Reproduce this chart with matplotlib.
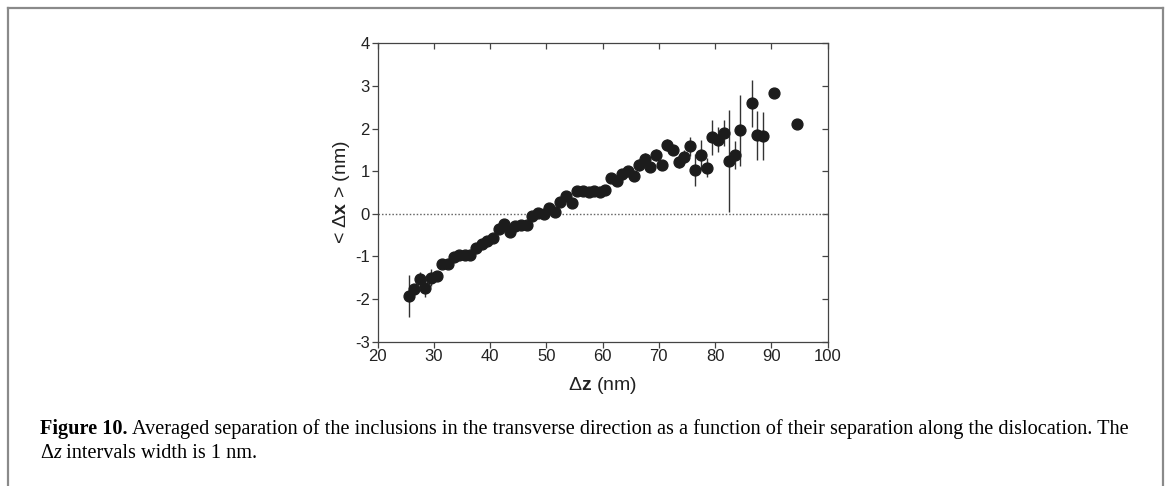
import numpy as np
import matplotlib
matplotlib.use('Agg')
import matplotlib.pyplot as plt
from matplotlib.lines import Line2D

plt.rcParams['font.family'] = ['Liberation Sans', 'DejaVu Sans']
plt.rcParams['mathtext.fontset'] = 'custom'
plt.rcParams['mathtext.rm'] = 'Liberation Sans'
plt.rcParams['mathtext.bf'] = 'Liberation Sans:bold'
plt.rcParams['axes.unicode_minus'] = False

# interval centres (nm)
dz = [25.5, 26.5, 27.5, 28.5, 29.5, 30.5, 31.5, 32.5, 33.5, 34.5,
      35.5, 36.5, 37.5, 38.5, 39.5, 40.5, 41.5, 42.5, 43.5, 44.5,
      45.5, 46.5, 47.5, 48.5, 49.5, 50.5, 51.5, 52.5, 53.5, 54.5,
      55.5, 56.5, 57.5, 58.5, 59.5, 60.5, 61.5, 62.5, 63.5, 64.5,
      65.5, 66.5, 67.5, 68.5, 69.5, 70.5, 71.5, 72.5, 73.5, 74.5,
      75.5, 76.5, 77.5, 78.5, 79.5, 80.5, 81.5, 82.5, 83.5, 84.5,
      86.5, 87.5, 88.5, 90.5, 94.5]
# averaged transverse separation (nm)
dx = [-1.93, -1.77, -1.54, -1.75, -1.50, -1.47, -1.18, -1.19, -1.02, -0.97,
      -0.97, -0.97, -0.80, -0.72, -0.65, -0.58, -0.37, -0.25, -0.44, -0.28,
      -0.27, -0.27, -0.05, 0.02, -0.01, 0.13, 0.03, 0.28, 0.42, 0.26,
      0.53, 0.53, 0.51, 0.54, 0.52, 0.55, 0.83, 0.76, 0.94, 1.00,
      0.89, 1.14, 1.28, 1.09, 1.38, 1.14, 1.62, 1.50, 1.22, 1.34,
      1.58, 1.03, 1.38, 1.08, 1.79, 1.74, 1.89, 1.24, 1.38, 1.96,
      2.59, 1.84, 1.82, 2.83, 2.10]
err = [0.50, 0.12, 0.17, 0.20, 0.20, 0.10, 0.08, 0.06, 0.06, 0.06,
       0.06, 0.06, 0.06, 0.06, 0.06, 0.06, 0.06, 0.06, 0.06, 0.06,
       0.06, 0.06, 0.06, 0.06, 0.06, 0.06, 0.06, 0.06, 0.06, 0.06,
       0.06, 0.06, 0.06, 0.06, 0.06, 0.06, 0.08, 0.08, 0.12, 0.10,
       0.12, 0.14, 0.15, 0.12, 0.15, 0.12, 0.14, 0.12, 0.15, 0.15,
       0.23, 0.38, 0.35, 0.22, 0.42, 0.30, 0.31, 1.20, 0.33, 0.83,
       0.55, 0.57, 0.57, 0.0, 0.0]

xticks = [20, 30, 40, 50, 60, 70, 80, 90, 100]
yticks = [-3, -2, -1, 0, 1, 2, 3, 4]

fig = plt.figure(figsize=(11.7, 4.86), dpi=100)
ax = fig.add_axes([0.3227, 0.2973, 0.3847, 0.6136])

ax.axhline(0, color='#666666', lw=1, ls=(0, (1.1, 1.4)), zorder=1)
ax.errorbar(dz, dx, yerr=err, fmt='o', ms=7.8, color='#1c1c1c',
            ecolor='#333333', elinewidth=1, capsize=0, zorder=3)

ax.set_xlim(20, 100)
ax.set_ylim(-3, 4)
ax.set_xticks(xticks)
ax.set_yticks(yticks)
ax.tick_params(direction='out', length=4, width=0.9, color='#444444',
               labelsize=12, pad=1.5, labelcolor='#222222')
for s in ax.spines.values():
    s.set_color('#444444')
    s.set_linewidth(0.9)

# mirrored ticks on top/right point inwards
sx = ax.secondary_xaxis('top')
sx.set_xticks(xticks)
sx.tick_params(direction='in', length=4, width=0.9, color='#444444', labeltop=False)
sx.spines['top'].set_visible(False)
sy = ax.secondary_yaxis('right')
sy.set_yticks(yticks)
sy.tick_params(direction='in', length=4, width=0.9, color='#444444', labelright=False)
sy.spines['right'].set_visible(False)

ax.set_xlabel(r'Δ$\mathbf{z}$ (nm)', fontsize=14, labelpad=8, color='#222222')
ax.set_ylabel(r'< Δ$\mathbf{x}$ > (nm)', fontsize=14, labelpad=2, color='#222222')

# page frame
fc = '#8a8a8a'
fig.add_artist(Line2D([8/1170, 8/1170], [0, 1 - 8/486], transform=fig.transFigure, color=fc, lw=1.6))
fig.add_artist(Line2D([1163/1170, 1163/1170], [0, 1 - 8/486], transform=fig.transFigure, color=fc, lw=1.6))
fig.add_artist(Line2D([8/1170, 1163/1170], [1 - 8/486, 1 - 8/486], transform=fig.transFigure, color=fc, lw=1.6))

# caption
r = fig.canvas.get_renderer()
W = fig.bbox.width

def runs(x, y, parts):
    for s, kw in parts:
        t = fig.text(x, y, s, family='Liberation Serif', fontsize=14.6,
                     va='baseline', **kw)
        x += t.get_window_extent(r).width / W

runs(40/1170, 1 - 434/486, [
    ('Figure 10.', dict(weight='bold')),
    (' Averaged separation of the inclusions in the transverse direction as a function '
     'of their separation along the dislocation. The', {})])
runs(40/1170, 1 - 458/486, [
    ('Δ', {}), ('z', dict(style='italic')), (' intervals width is 1 nm.', {})])

fig.savefig('out.png', dpi=100)
